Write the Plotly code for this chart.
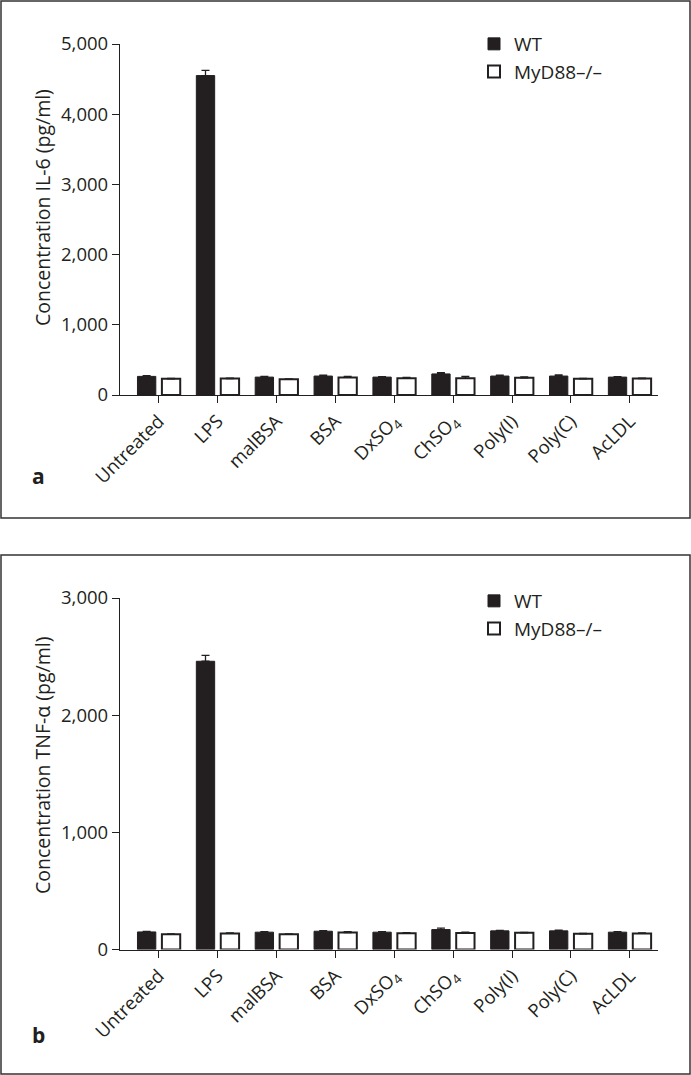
import plotly.graph_objects as go

W, H = 691, 1075

categories = ["Untreated", "LPS", "malBSA", "BSA", "DxSO<sub>4</sub>", "ChSO<sub>4</sub>",
              "Poly(I)", "Poly(C)", "AcLDL"]

il6_wt = [265, 4550, 255, 270, 255, 300, 270, 270, 255]
il6_wt_err = [12, 75, 10, 14, 8, 20, 12, 18, 8]
il6_ko = [230, 235, 225, 250, 240, 240, 245, 230, 235]
il6_ko_err = [8, 6, 6, 15, 12, 25, 14, 8, 6]

tnf_wt = [150, 2460, 148, 156, 148, 170, 159, 159, 148]
tnf_wt_err = [4, 50, 4, 5, 4, 12, 5, 6, 4]
tnf_ko = [130, 137, 130, 145, 139, 140, 142, 134, 137]
tnf_ko_err = [4, 4, 4, 8, 5, 8, 5, 4, 4]

y_ticks_a = [0, 1000, 2000, 3000, 4000, 5000]
y_ticks_b = [0, 1000, 2000, 3000]

INK = "#231f20"
FONT = "Open Sans"
x_idx = list(range(len(categories)))


def px(x):
    return x / W


def py(y):
    return 1 - y / H


fig = go.Figure()


def add_pair(wt, wt_err, ko, ko_err, xa, ya, legend):
    fig.add_trace(go.Bar(
        x=x_idx, y=wt, name="WT", xaxis=xa, yaxis=ya, legend=legend,
        marker=dict(color=INK, line=dict(color=INK, width=1)),
        error_y=dict(type="data", array=wt_err, symmetric=False, arrayminus=[0] * len(wt),
                     color=INK, thickness=1.3, width=4),
    ))
    fig.add_trace(go.Bar(
        x=x_idx, y=ko, name="MyD88–/–", xaxis=xa, yaxis=ya, legend=legend,
        marker=dict(color="white", line=dict(color=INK, width=2)),
        error_y=dict(type="data", array=ko_err, symmetric=False, arrayminus=[0] * len(ko),
                     color=INK, thickness=1.3, width=4),
    ))


add_pair(il6_wt, il6_wt_err, il6_ko, il6_ko_err, "x", "y", "legend")
add_pair(tnf_wt, tnf_wt_err, tnf_ko, tnf_ko_err, "x2", "y2", "legend2")

xdom = [px(120), px(658)]
xrange = [-0.66, 8.48]

axis_common = dict(
    showgrid=False, zeroline=False, showline=True, linecolor=INK, linewidth=1.3,
    ticks="outside", ticklen=7, tickwidth=1.3, tickcolor=INK,
    tickfont=dict(family=FONT, size=18.5, color=INK), automargin=False,
)

legend_common = dict(
    xanchor="left", yanchor="top", font=dict(family=FONT, size=19, color=INK),
    bgcolor="rgba(0,0,0,0)", itemwidth=30, tracegroupgap=0,
)

fig.update_layout(
    width=W, height=H,
    margin=dict(l=0, r=0, t=0, b=0),
    paper_bgcolor="white", plot_bgcolor="white",
    barmode="group", bargap=0.17, bargroupgap=0.25,
    font=dict(family=FONT, color=INK),
    xaxis=dict(domain=xdom, range=xrange, tickvals=x_idx, ticktext=categories,
               tickangle=-45, anchor="y", **axis_common),
    yaxis=dict(domain=[py(395), py(44)], range=[0, 5000], tickvals=y_ticks_a,
               tickformat=",", anchor="x", **axis_common),
    xaxis2=dict(domain=xdom, range=xrange, tickvals=x_idx, ticktext=categories,
                tickangle=-45, anchor="y2", **axis_common),
    yaxis2=dict(domain=[py(949.5), py(598)], range=[0, 3000], tickvals=y_ticks_b,
                tickformat=",", anchor="x2", **axis_common),
    legend=dict(x=px(474), y=py(25), **legend_common),
    legend2=dict(x=px(474), y=py(582), **legend_common),
    shapes=[
        dict(type="rect", xref="paper", yref="paper", x0=px(1), x1=px(690),
             y0=py(518), y1=py(1), line=dict(color="#333", width=1.5)),
        dict(type="rect", xref="paper", yref="paper", x0=px(1), x1=px(690),
             y0=py(1074), y1=py(555), line=dict(color="#333", width=1.5)),
    ],
    annotations=[
        dict(text="Concentration IL-6 (pg/ml)", x=px(42), y=py(208), xref="paper", yref="paper",
             xanchor="center", yanchor="middle",
             textangle=-90, showarrow=False, font=dict(family=FONT, size=19.5, color=INK)),
        dict(text="Concentration TNF-α (pg/ml)", x=px(42), y=py(765), xref="paper", yref="paper",
             xanchor="center", yanchor="middle",
             textangle=-90, showarrow=False, font=dict(family=FONT, size=19.5, color=INK)),
        dict(text="<b>a</b>", x=px(38), y=py(476), xref="paper", yref="paper",
             xanchor="center", yanchor="middle",
             showarrow=False, font=dict(family=FONT, size=21, color=INK)),
        dict(text="<b>b</b>", x=px(38), y=py(1035), xref="paper", yref="paper",
             xanchor="center", yanchor="middle",
             showarrow=False, font=dict(family=FONT, size=21, color=INK)),
    ],
)

fig.write_html("out.html", config={"displayModeBar": False},
               post_script="document.body.style.margin='0';document.body.style.overflow='hidden';")
